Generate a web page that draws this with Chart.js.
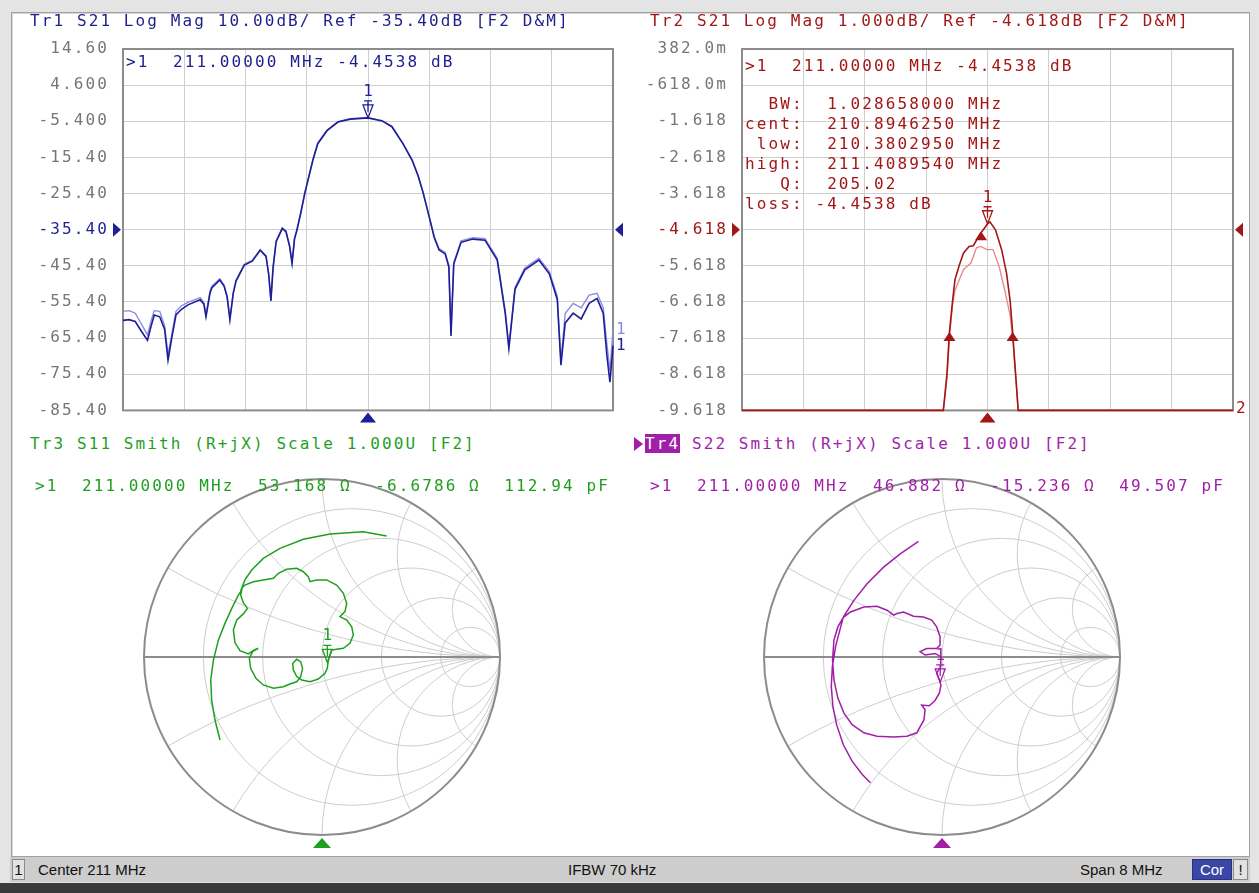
<!DOCTYPE html>
<html>
<head>
<meta charset="utf-8">
<title>VNA screen - 211 MHz filter</title>
<script src="https://cdn.jsdelivr.net/npm/chart.js@4.4.1/dist/chart.umd.min.js"></script>
<style>
  html, body { margin: 0; padding: 0; }
  body { width: 1259px; height: 893px; position: relative; overflow: hidden; background: #e4e4e4; }
  #screen { position: absolute; left: 11px; top: 12px; width: 1237px; height: 843px; background: #fff;
            border: 1px solid #a2a2a2; box-shadow: inset 1px 1px 0 #d6d6d6; }
  #statusbar { position: absolute; left: 10px; top: 857px; width: 1240px; height: 25px; background: #cdcdcd;
               font: 15px 'Liberation Sans', Arial, sans-serif; color: #111; }
  #statusbar span { position: absolute; top: 3px; line-height: 19px; }
  #statusbar .box { border: 1px solid #8a8a8a; background: #e2e2e2; text-align: center; top: 2px; }
  #statusbar .cor { background: #3b47a6; color: #fff; border-color: #2a3280; }
  #bottomedge { position: absolute; left: 0; top: 883px; width: 1259px; height: 10px; background: #3a3a3a; }
  canvas { position: absolute; }
  .t { position: absolute; font: 16px 'DejaVu Sans Mono', monospace; letter-spacing: 2.1px;
       white-space: pre; line-height: 20px; }
  .blue { color: #1e1e8c; }
  .red { color: #a31616; }
  .green { color: #1f9f1f; }
  .purple { color: #a11fa8; }
  .trbox { background: #a11fa8; color: #fff; }
  #tr4arrow { position: absolute; left: 634px; top: 437px; width: 0; height: 0;
              border-top: 7px solid transparent; border-bottom: 7px solid transparent; border-left: 9px solid #a11fa8; }
</style>
</head>
<body>
<div id="screen"></div>

<canvas id="tr1" width="616" height="420" style="left:14px;top:14px"></canvas>
<canvas id="tr2" width="616" height="420" style="left:634px;top:14px"></canvas>
<canvas id="tr3" width="396" height="396" style="left:124px;top:459px"></canvas>
<canvas id="tr4" width="396" height="396" style="left:744px;top:459px"></canvas>

<div class="t blue" style="left:30px;top:11px">Tr1 S21 Log Mag 10.00dB/ Ref -35.40dB [F2 D&amp;M]</div>
<div class="t blue" style="left:126px;top:52px">&gt;1  211.00000 MHz -4.4538 dB</div>

<div class="t red" style="left:650px;top:11px">Tr2 S21 Log Mag 1.000dB/ Ref -4.618dB [F2 D&amp;M]</div>
<div class="t red" style="left:745px;top:56px">&gt;1  211.00000 MHz -4.4538 dB</div>
<div class="t red" style="left:745px;top:94px">  BW:  1.028658000 MHz
cent:  210.8946250 MHz
 low:  210.3802950 MHz
high:  211.4089540 MHz
   Q:  205.02
loss: -4.4538 dB</div>

<div class="t green" style="left:30px;top:434px">Tr3 S11 Smith (R+jX) Scale 1.000U [F2]</div>
<div class="t green" style="left:35px;top:476px">&gt;1  211.00000 MHz  53.168 Ω  -6.6786 Ω  112.94 pF</div>

<div id="tr4arrow"></div>
<div class="t purple" style="left:645px;top:434px"><span class="trbox">Tr4</span> S22 Smith (R+jX) Scale 1.000U [F2]</div>
<div class="t purple" style="left:650px;top:476px">&gt;1  211.00000 MHz  46.882 Ω  -15.236 Ω  49.507 pF</div>

<div id="statusbar">
  <span class="box" style="left:2px;width:11px;">1</span>
  <span style="left:28px">Center 211 MHz</span>
  <span style="left:558px">IFBW 70 kHz</span>
  <span style="left:1070px">Span 8 MHz</span>
  <span class="box cor" style="left:1182px;width:38px;">Cor</span>
  <span class="box" style="left:1223px;width:13px;">!</span>
</div>
<div id="bottomedge"></div>

<script>
// Sweep: center 211 MHz, span 8 MHz, grid every 1 MHz
const sweepTicks = [207, 208, 209, 210, 211, 212, 213, 214, 215];

// Tr1: S21 log mag, 10 dB/div, ref -35.40 dB
const tr1TickValues = [-85.4, -75.4, -65.4, -55.4, -45.4, -35.4, -25.4, -15.4, -5.4, 4.6, 14.6];
const tr1TickLabels = ['-85.40', '-75.40', '-65.40', '-55.40', '-45.40', '-35.40', '-25.40', '-15.40', '-5.400', '4.600', '14.60'];
const tr1Ref = -35.4;
// [MHz, dB] data trace
const tr1Data = [
  [207.00,-60.5],[207.10,-60.3],[207.20,-60.8],[207.30,-63.5],[207.40,-66.0],[207.46,-62.0],[207.51,-59.0],
  [207.60,-59.5],[207.68,-63.0],[207.735,-71.5],[207.80,-65.0],[207.865,-59.0],[207.95,-57.5],[208.06,-56.2],
  [208.26,-54.8],[208.32,-56.0],[208.355,-59.5],[208.42,-53.0],[208.45,-51.5],[208.58,-49.3],[208.65,-51.0],
  [208.70,-54.0],[208.745,-60.3],[208.80,-53.0],[208.845,-49.6],[208.98,-45.2],[209.11,-44.1],[209.24,-41.1],
  [209.335,-42.8],[209.38,-48.0],[209.415,-55.1],[209.45,-46.0],[209.50,-38.7],[209.60,-35.1],[209.66,-35.9],
  [209.72,-40.0],[209.76,-44.7],[209.80,-38.0],[209.84,-35.5],[209.90,-31.0],[209.97,-25.2],[210.10,-16.2],
  [210.18,-11.6],[210.33,-8.0],[210.51,-5.6],[210.71,-4.8],[211.00,-4.45],[211.23,-5.3],[211.39,-6.9],
  [211.57,-11.6],[211.72,-16.2],[211.82,-20.6],[211.90,-25.2],[212.01,-32.6],[212.08,-37.5],[212.16,-41.0],
  [212.26,-42.1],[212.32,-45.7],[212.355,-64.8],[212.40,-44.9],[212.52,-38.9],[212.71,-38.0],[212.91,-38.3],
  [213.11,-43.8],[213.24,-58.5],[213.30,-68.3],[213.40,-51.9],[213.56,-46.5],[213.79,-43.8],[213.96,-47.6],
  [214.09,-54.7],[214.15,-72.9],[214.22,-61.2],[214.35,-58.5],[214.48,-60.1],[214.61,-55.8],[214.74,-54.4],
  [214.84,-58.5],[214.90,-70.2],[214.95,-77.6],[215.00,-67.5]
];
// [MHz, dB] memory trace
const tr1Mem = [
  [207.00,-58.0],[207.10,-57.8],[207.20,-58.5],[207.30,-61.5],[207.40,-64.5],[207.46,-60.5],[207.51,-57.8],
  [207.60,-58.0],[207.68,-62.0],[207.735,-70.0],[207.80,-64.0],[207.865,-58.0],[207.95,-56.5],[208.06,-55.5],
  [208.26,-54.2],[208.32,-55.5],[208.355,-59.0],[208.42,-52.5],[208.45,-51.0],[208.58,-49.0],[208.65,-50.7],
  [208.70,-53.8],[208.745,-60.0],[208.80,-52.8],[208.845,-49.4],[208.98,-45.0],[209.11,-43.9],[209.24,-40.9],
  [209.335,-42.6],[209.38,-47.8],[209.415,-54.8],[209.45,-45.8],[209.50,-38.5],[209.60,-34.9],[209.66,-35.7],
  [209.72,-39.8],[209.76,-44.4],[209.80,-37.8],[209.84,-35.3],[209.90,-30.8],[209.97,-25.0],[210.10,-16.0],
  [210.18,-11.4],[210.33,-7.9],[210.51,-5.5],[210.71,-4.7],[211.00,-4.4],[211.23,-5.2],[211.39,-6.8],
  [211.57,-11.5],[211.72,-16.0],[211.82,-20.4],[211.90,-25.0],[212.01,-32.4],[212.08,-37.2],[212.16,-40.6],
  [212.26,-41.7],[212.32,-45.2],[212.355,-64.0],[212.40,-44.5],[212.52,-38.5],[212.71,-37.6],[212.91,-37.9],
  [213.11,-43.3],[213.24,-57.8],[213.30,-67.5],[213.40,-51.4],[213.56,-46.0],[213.79,-43.3],[213.96,-47.0],
  [214.09,-53.8],[214.15,-71.5],[214.22,-58.5],[214.35,-55.8],[214.48,-57.0],[214.61,-53.5],[214.74,-53.0],
  [214.84,-57.0],[214.90,-67.0],[214.95,-74.5],[215.00,-63.0]
];
const tr1Marker = [211.0, -4.4538];

// Tr2: S21 log mag, 1 dB/div, ref -4.618 dB (trace clamps at the bottom line)
const tr2TickValues = [-9.618, -8.618, -7.618, -6.618, -5.618, -4.618, -3.618, -2.618, -1.618, -0.618, 0.382];
const tr2TickLabels = ['-9.618', '-8.618', '-7.618', '-6.618', '-5.618', '-4.618', '-3.618', '-2.618', '-1.618', '-618.0m', '382.0m'];
const tr2Ref = -4.618;
const tr2Data = [
  [207.00,-9.618],[210.28,-9.618],[210.30,-9.3],[210.34,-8.6],[210.38,-7.45],[210.43,-6.6],[210.47,-6.0],
  [210.54,-5.6],[210.61,-5.26],[210.70,-5.08],[210.77,-5.06],[210.87,-4.76],[210.97,-4.53],[211.00,-4.4538],
  [211.04,-4.40],[211.13,-4.62],[211.23,-5.17],[211.31,-5.82],[211.37,-6.6],[211.409,-7.45],[211.44,-8.2],
  [211.47,-8.9],[211.50,-9.618],[215.00,-9.618]
];
const tr2Mem = [
  [207.00,-9.618],[210.28,-9.618],[210.34,-8.7],[210.38,-7.6],[210.43,-6.7],[210.47,-6.3],[210.54,-6.0],
  [210.61,-5.72],[210.73,-5.54],[210.82,-5.12],[210.89,-5.08],[210.99,-5.17],[211.09,-5.17],[211.19,-5.64],
  [211.28,-6.28],[211.37,-7.0],[211.42,-7.8],[211.47,-8.9],[211.50,-9.618],[215.00,-9.618]
];
const tr2Marker = [211.0, -4.4538];
// bandwidth search markers: low, center, high
const tr2BwMarkers = [[210.3802950, -7.45], [210.8946250, -4.66], [211.4089540, -7.45]];

// Smith chart grid: constant resistance circles and reactance arcs (normalised)
const smithR = [0.2, 0.5, 1, 2, 5];
const smithX = [0.268, 0.577, 1, 1.732, 3.732];

// Tr3: S11 as reflection coefficient [Re, Im]
const tr3Data = [
  [0.363,0.680],[0.232,0.704],[0.045,0.691],[-0.105,0.661],[-0.236,0.610],[-0.330,0.554],[-0.395,0.489],
  [-0.433,0.433],[-0.451,0.386],[-0.433,0.404],[-0.386,0.423],[-0.330,0.433],[-0.273,0.442],[-0.245,0.470],
  [-0.199,0.493],[-0.142,0.498],[-0.105,0.479],[-0.077,0.451],[-0.067,0.423],[-0.030,0.433],[0.026,0.433],
  [0.082,0.404],[0.120,0.358],[0.139,0.301],[0.129,0.255],[0.101,0.227],[0.139,0.208],[0.167,0.170],
  [0.176,0.124],[0.157,0.077],[0.120,0.049],[0.082,0.043],[0.054,0.039],[0.041,0.002],[0.034,-0.030],
  [0.030,-0.062],[0.017,-0.092],[-0.021,-0.124],[-0.067,-0.139],[-0.114,-0.129],[-0.142,-0.110],
  [-0.161,-0.073],[-0.165,-0.036],[-0.142,-0.013],[-0.120,-0.026],[-0.109,-0.064],[-0.120,-0.110],
  [-0.142,-0.139],[-0.180,-0.152],[-0.217,-0.167],[-0.273,-0.176],[-0.330,-0.157],[-0.371,-0.120],
  [-0.401,-0.064],[-0.408,-0.007],[-0.390,0.030],[-0.358,0.049],[-0.380,0.040],[-0.414,0.017],
  [-0.461,0.036],[-0.489,0.081],[-0.498,0.152],[-0.479,0.208],[-0.442,0.242],[-0.419,0.273],
  [-0.442,0.305],[-0.457,0.348],[-0.451,0.376],[-0.470,0.348],[-0.507,0.273],[-0.545,0.189],
  [-0.582,0.096],[-0.610,-0.017],[-0.625,-0.129],[-0.620,-0.242],[-0.601,-0.354],[-0.573,-0.466]
];
const tr3Marker = [0.03, -0.03];

// Tr4: S22 as reflection coefficient [Re, Im]
const tr4Data = [
  [-0.132,0.650],[-0.235,0.579],[-0.328,0.505],[-0.421,0.412],[-0.495,0.318],[-0.542,0.244],[-0.551,0.225],
  [-0.514,0.253],[-0.439,0.281],[-0.365,0.285],[-0.309,0.263],[-0.272,0.235],[-0.253,0.244],[-0.216,0.253],
  [-0.160,0.229],[-0.104,0.225],[-0.058,0.207],[-0.030,0.169],[-0.011,0.114],[-0.011,0.067],[-0.030,0.048],
  [-0.086,0.048],[-0.123,0.030],[-0.095,0.011],[-0.039,0.020],[-0.007,0.002],[-0.007,-0.054],[-0.030,-0.091],
  [-0.015,-0.128],[-0.006,-0.158],[-0.015,-0.203],[-0.039,-0.244],[-0.071,-0.274],[-0.114,-0.270],
  [-0.095,-0.296],[-0.101,-0.352],[-0.142,-0.426],[-0.197,-0.445],[-0.272,-0.449],[-0.365,-0.445],
  [-0.439,-0.426],[-0.505,-0.380],[-0.551,-0.315],[-0.585,-0.231],[-0.607,-0.128],[-0.615,-0.017],
  [-0.607,0.095],[-0.585,0.169],[-0.555,0.222],[-0.574,0.151],[-0.598,0.058],[-0.616,-0.054],
  [-0.622,-0.166],[-0.613,-0.277],[-0.592,-0.380],[-0.555,-0.492],[-0.505,-0.585],[-0.449,-0.659],
  [-0.402,-0.706]
];
const tr4Marker = [-0.01, -0.14];

const MONO = "'DejaVu Sans Mono', monospace";
Chart.defaults.font.family = MONO;
Chart.defaults.font.size = 16;

function triangle(ctx, tx, ty, dir, half, len) {
    ctx.beginPath();
    ctx.moveTo(tx, ty);
    if (dir === 'right') { ctx.lineTo(tx - len, ty - half); ctx.lineTo(tx - len, ty + half); }
    if (dir === 'left')  { ctx.lineTo(tx + len, ty - half); ctx.lineTo(tx + len, ty + half); }
    if (dir === 'up')    { ctx.lineTo(tx - half, ty + len); ctx.lineTo(tx + half, ty + len); }
    ctx.closePath();
    ctx.fill();
}

// active marker: outlined down triangle with a bar and the marker number above
function markerGlyph(ctx, px, py, color, label) {
    ctx.strokeStyle = color;
    ctx.fillStyle = color;
    ctx.lineWidth = 1.3;
    ctx.beginPath();
    ctx.moveTo(px - 5, py - 13); ctx.lineTo(px + 5, py - 13); ctx.lineTo(px, py); ctx.closePath();
    ctx.stroke();
    ctx.beginPath();
    ctx.moveTo(px - 4, py - 17); ctx.lineTo(px + 4, py - 17);
    ctx.moveTo(px, py - 17); ctx.lineTo(px, py - 6);
    ctx.stroke();
    ctx.font = '16px ' + MONO;
    ctx.textAlign = 'center';
    ctx.textBaseline = 'bottom';
    ctx.fillText(label, px, py - 18);
}

const vnaPlot = {
    id: 'vna',
    beforeDraw(chart) {
        chart.ctx.letterSpacing = '2.1px';
    },
    beforeDatasetsDraw(chart) {
        const { ctx, chartArea: a } = chart;
        ctx.save();
        ctx.strokeStyle = '#8c8c8c';
        ctx.lineWidth = 2;
        ctx.strokeRect(a.left, a.top, a.right - a.left, a.bottom - a.top);
        ctx.restore();
    },
    afterDraw(chart, args, o) {
        const { ctx, chartArea: a, scales: { x, y } } = chart;
        ctx.save();
        ctx.letterSpacing = '0px';
        ctx.fillStyle = o.color;
        const ry = y.getPixelForValue(o.ref);
        triangle(ctx, a.left - 2, ry, 'right', 7, 8);
        triangle(ctx, a.right + 2, ry, 'left', 7, 8);
        triangle(ctx, x.getPixelForValue(o.stimulus), a.bottom + 2, 'up', 8, 10);
        (o.bw || []).forEach(([f, v]) => triangle(ctx, x.getPixelForValue(f), y.getPixelForValue(v), 'up', 6, 9));
        markerGlyph(ctx, x.getPixelForValue(o.marker[0]), y.getPixelForValue(o.marker[1]), o.color, '1');
        // trace numbers at the right end of each trace
        ctx.font = '16px ' + MONO;
        ctx.textAlign = 'left';
        ctx.textBaseline = 'middle';
        chart.data.datasets.forEach(ds => {
            if (!ds.tag) return;
            const last = ds.data[ds.data.length - 1];
            ctx.fillStyle = ds.borderColor;
            ctx.fillText(ds.tag, a.right + 3, Math.min(y.getPixelForValue(last.y), a.bottom - 2));
        });
        ctx.restore();
    }
};

function logMagChart(id, cfg) {
    return new Chart(document.getElementById(id), {
        type: 'line',
        data: {
            datasets: [
                { data: cfg.data.map(([x, y]) => ({ x, y })), borderColor: cfg.color, borderWidth: 1.6,
                  order: 0, tag: cfg.tag, clip: 4 },
                { data: cfg.mem.map(([x, y]) => ({ x, y })), borderColor: cfg.memColor, borderWidth: 1.4,
                  order: 1, tag: cfg.memTag, clip: 4 }
            ]
        },
        options: {
            responsive: false,
            animation: false,
            devicePixelRatio: 1,
            layout: { padding: { top: 35, right: 17, bottom: 19, left: 0 } },
            elements: { point: { radius: 0 }, line: { tension: 0 } },
            scales: {
                x: {
                    type: 'linear', min: 207, max: 215,
                    afterBuildTicks: s => { s.ticks = sweepTicks.map(v => ({ value: v })); },
                    afterFit: s => { s.height = 0; },
                    ticks: { display: false },
                    grid: { color: '#cfcfcf', drawTicks: false },
                    border: { display: false }
                },
                y: {
                    type: 'linear',
                    min: cfg.ticks[0], max: cfg.ticks[cfg.ticks.length - 1],
                    afterBuildTicks: s => { s.ticks = cfg.ticks.map(v => ({ value: v })); },
                    afterFit: s => { s.width = cfg.axisWidth; },
                    ticks: {
                        padding: 14,
                        color: c => (c.tick && c.tick.value === cfg.ref) ? cfg.color : '#767676',
                        callback: (v, i) => cfg.labels[i]
                    },
                    grid: { color: '#cfcfcf', drawTicks: false },
                    border: { display: false }
                }
            },
            plugins: {
                legend: { display: false },
                tooltip: { enabled: false },
                vna: { color: cfg.color, ref: cfg.ref, stimulus: 211, marker: cfg.marker, bw: cfg.bw }
            }
        },
        plugins: [vnaPlot]
    });
}

const smithPlot = {
    id: 'smith',
    beforeDatasetsDraw(chart) {
        const { ctx, scales: { x, y } } = chart;
        const cx = x.getPixelForValue(0), cy = y.getPixelForValue(0);
        const R = x.getPixelForValue(1) - cx;
        ctx.save();
        ctx.beginPath();
        ctx.arc(cx, cy, R, 0, 2 * Math.PI);
        ctx.clip();
        ctx.strokeStyle = '#cdcdcd';
        ctx.lineWidth = 1;
        smithR.forEach(r => {
            ctx.beginPath();
            ctx.arc(cx + R * r / (r + 1), cy, R / (r + 1), 0, 2 * Math.PI);
            ctx.stroke();
        });
        smithX.forEach(xv => [1, -1].forEach(s => {
            ctx.beginPath();
            ctx.arc(cx + R, cy - s * R / xv, R / xv, 0, 2 * Math.PI);
            ctx.stroke();
        }));
        ctx.restore();
        ctx.save();
        ctx.strokeStyle = '#8c8c8c';
        ctx.lineWidth = 2;
        ctx.beginPath();
        ctx.arc(cx, cy, R, 0, 2 * Math.PI);
        ctx.stroke();
        ctx.beginPath();
        ctx.moveTo(cx - R, cy); ctx.lineTo(cx + R, cy);
        ctx.stroke();
        ctx.restore();
    },
    afterDraw(chart, args, o) {
        const { ctx, scales: { x, y } } = chart;
        const cx = x.getPixelForValue(0), cy = y.getPixelForValue(0);
        const R = x.getPixelForValue(1) - cx;
        ctx.save();
        ctx.fillStyle = o.color;
        triangle(ctx, cx, cy + R + 3, 'up', 9, 10);
        markerGlyph(ctx, x.getPixelForValue(o.marker[0]), y.getPixelForValue(o.marker[1]), o.color, '1');
        ctx.restore();
    }
};

function smithChart(id, points, color, marker) {
    return new Chart(document.getElementById(id), {
        type: 'scatter',
        data: {
            datasets: [{ data: points.map(([x, y]) => ({ x, y })), showLine: true, borderColor: color,
                         borderWidth: 1.5, pointRadius: 0, clip: false }]
        },
        options: {
            responsive: false,
            animation: false,
            devicePixelRatio: 1,
            layout: { padding: 20 },
            scales: {
                x: { type: 'linear', min: -1, max: 1, display: false },
                y: { type: 'linear', min: -1, max: 1, display: false }
            },
            plugins: {
                legend: { display: false },
                tooltip: { enabled: false },
                smith: { color, marker }
            }
        },
        plugins: [smithPlot]
    });
}

logMagChart('tr1', {
    data: tr1Data, mem: tr1Mem, color: '#1e1e96', memColor: '#8a8ae6', tag: '1', memTag: '1',
    ticks: tr1TickValues, labels: tr1TickLabels, ref: tr1Ref, axisWidth: 109, marker: tr1Marker
});
logMagChart('tr2', {
    data: tr2Data, mem: tr2Mem, color: '#a31616', memColor: '#ec8a8a', tag: '2', memTag: null,
    ticks: tr2TickValues, labels: tr2TickLabels, ref: tr2Ref, axisWidth: 108, marker: tr2Marker, bw: tr2BwMarkers
});
smithChart('tr3', tr3Data, '#1f9f1f', tr3Marker);
smithChart('tr4', tr4Data, '#a11fa8', tr4Marker);
</script>
</body>
</html>
